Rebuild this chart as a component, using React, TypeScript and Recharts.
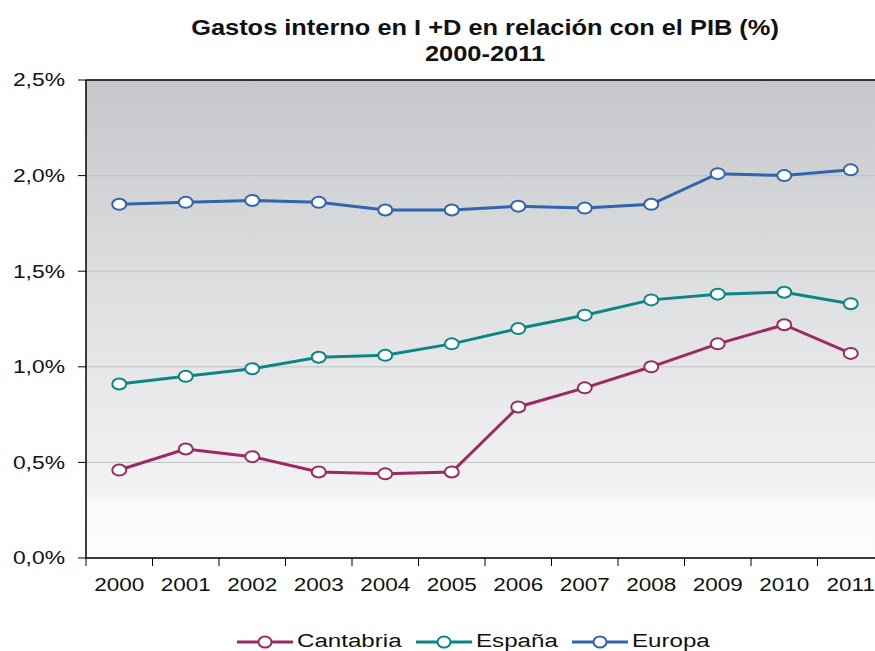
import React from 'react';
import { LineChart, Line, XAxis, YAxis, CartesianGrid, Legend, ReferenceLine } from 'recharts';

const years = ['2000', '2001', '2002', '2003', '2004', '2005', '2006', '2007', '2008', '2009', '2010', '2011'];
const cantabria = [0.46, 0.57, 0.53, 0.45, 0.44, 0.45, 0.79, 0.89, 1.0, 1.12, 1.22, 1.07];
const espana = [0.91, 0.95, 0.99, 1.05, 1.06, 1.12, 1.2, 1.27, 1.35, 1.38, 1.39, 1.33];
const europa = [1.85, 1.86, 1.87, 1.86, 1.82, 1.82, 1.84, 1.83, 1.85, 2.01, 2.0, 2.03];
const yTicks = [0, 0.5, 1.0, 1.5, 2.0, 2.5];
const boundaryTicks = [-0.5, 0.5, 1.5, 2.5, 3.5, 4.5, 5.5, 6.5, 7.5, 8.5, 9.5, 10.5, 11.5];
const labelTicks = [0, 1, 2, 3, 4, 5, 6, 7, 8, 9, 10, 11];

const series = [
  { key: 'cantabria', name: 'Cantabria', color: '#9a2a61', width: 166 },
  { key: 'espana', name: 'España', color: '#0b8683', width: 143 },
  { key: 'europa', name: 'Europa', color: '#2f65ad', width: 138 },
];

const data = years.map((y, i) => ({
  i,
  year: y,
  cantabria: cantabria[i],
  espana: espana[i],
  europa: europa[i],
}));

const FONT = '"Liberation Sans", Arial, sans-serif';
const STRETCH = 1.25;

const fmt = (v: number) => v.toFixed(1).replace('.', ',') + '%';

const YTick = (props: any) => {
  const { x, y, payload } = props;
  return (
    <text
      transform={`translate(${x},${y}) scale(1.27,1)`}
      textAnchor="end"
      dy="0.355em"
      fontFamily={FONT}
      fontSize={18}
      fill="#111"
    >
      {fmt(payload.value)}
    </text>
  );
};

const XTick = (props: any) => {
  const { x, y, payload } = props;
  const label = years[Math.round(payload.value)] ?? '';
  return (
    <text
      transform={`translate(${x},${y}) scale(${STRETCH},1)`}
      textAnchor="middle"
      dy="0.71em"
      fontFamily={FONT}
      fontSize={18}
      fill="#111"
    >
      {label}
    </text>
  );
};

const EmptyTick = () => <g />;

const makeDot = (color: string) => (props: any) => {
  const { cx, cy, index } = props;
  if (cx == null || cy == null) return <g key={index} />;
  return <ellipse key={index} cx={cx} cy={cy} rx={7} ry={5.5} fill="#fff" stroke={color} strokeWidth={2} />;
};

const LegendContent = () => (
  <div style={{ display: 'flex', paddingLeft: 237, height: 30, gap: 13 }}>
    {series.map((s) => (
      <svg key={s.key} width={s.width} height={30} style={{ overflow: 'visible' }}>
        <line x1={0} x2={56} y1={21} y2={21} stroke={s.color} strokeWidth={3} />
        <ellipse cx={28} cy={21} rx={6.5} ry={5.5} fill="#fff" stroke={s.color} strokeWidth={2} />
        <text
          transform={`translate(60,26) scale(1.27,1)`}
          fontFamily={FONT}
          fontSize={19}
          fill="#111"
        >
          {s.name}
        </text>
      </svg>
    ))}
  </div>
);

export default function App() {
  return (
    <div
      style={{
        position: 'fixed',
        left: 0,
        top: 0,
        width: 875,
        height: 651,
        overflow: 'hidden',
        background: '#fff',
      }}
    >
      <LineChart
        width={900}
        height={651}
        data={data}
        margin={{ top: 80, right: 16, bottom: 0, left: 0 }}
      >
        <defs>
          <linearGradient id="plotBg" x1="0" y1="0" x2="0" y2="1">
            <stop offset="0" stopColor="#c5c7ca" />
            <stop offset="0.4" stopColor="#dcdddf" />
            <stop offset="0.87" stopColor="#f3f3f4" />
            <stop offset="0.88" stopColor="#fafafb" />
            <stop offset="1" stopColor="#fcfcfd" />
          </linearGradient>
        </defs>
        <CartesianGrid
          vertical={false}
          stroke="#c2c2c2"
          strokeWidth={1}
          fill="url(#plotBg)"
          fillOpacity={1}
        />
        <XAxis
          dataKey="i"
          type="number"
          domain={[-0.5, 11.5]}
          ticks={boundaryTicks}
          interval={0}
          tick={<EmptyTick />}
          tickSize={8}
          height={8}
          stroke="#000"
          axisLine={{ stroke: '#000', strokeWidth: 1.5 }}
          tickLine={{ stroke: '#000', strokeWidth: 1 }}
          allowDataOverflow
        />
        <XAxis
          xAxisId="lab"
          dataKey="i"
          type="number"
          domain={[-0.5, 11.5]}
          ticks={labelTicks}
          axisLine={false}
          tickLine={false}
          tickSize={0}
          tickMargin={12}
          interval={0}
          height={55}
          tick={<XTick />}
          allowDataOverflow
        />
        <YAxis
          domain={[0, 2.5]}
          ticks={yTicks}
          interval={0}
          width={86}
          tickSize={8}
          tickMargin={13}
          axisLine={{ stroke: '#000', strokeWidth: 1.5 }}
          tickLine={{ stroke: '#000', strokeWidth: 1 }}
          tick={<YTick />}
          allowDataOverflow
        />
        <ReferenceLine y={2.5} stroke="#000" strokeWidth={1.5} />
        <Legend verticalAlign="bottom" height={30} content={<LegendContent />} />
        {series.map((s) => (
          <Line
            key={s.key}
            dataKey={s.key}
            name={s.name}
            type="linear"
            stroke={s.color}
            strokeWidth={3}
            dot={makeDot(s.color)}
            activeDot={false}
            isAnimationActive={false}
          />
        ))}
      </LineChart>
      <svg
        width={875}
        height={75}
        style={{ position: 'absolute', left: 0, top: 0, pointerEvents: 'none' }}
      >
        <text
          transform="translate(485,35) scale(1.155,1)"
          textAnchor="middle"
          fontFamily={FONT}
          fontWeight="bold"
          fontSize={22}
          fill="#111"
        >
          Gastos interno en I +D en relación con el PIB (%)
        </text>
        <text
          transform="translate(485,61) scale(1.155,1)"
          textAnchor="middle"
          fontFamily={FONT}
          fontWeight="bold"
          fontSize={22}
          fill="#111"
        >
          2000-2011
        </text>
      </svg>
    </div>
  );
}
